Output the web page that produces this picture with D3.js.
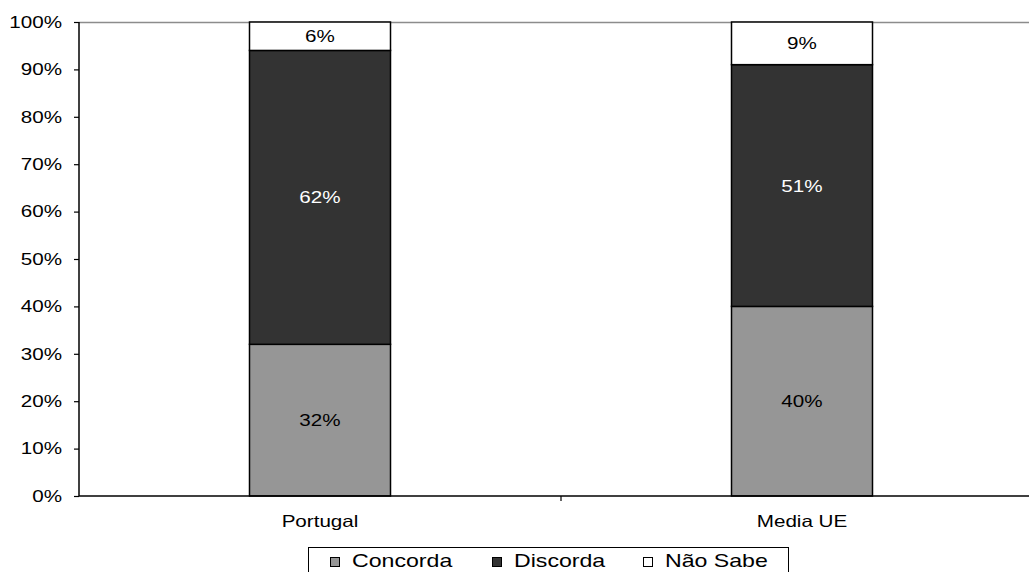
<!DOCTYPE html>
<html><head><meta charset="utf-8">
<script src="https://cdn.jsdelivr.net/npm/d3@7"></script>
<style>body{margin:0;background:#fff}svg{display:block;font-family:"Liberation Sans",Arial,sans-serif}</style>
</head><body><svg id="c" width="1029" height="572"></svg>
<script>
const categories = ["Portugal", "Media UE"];
const seriesNames = ["Concorda", "Discorda", "Não Sabe"];
const concorda = [32, 40];
const discorda = [62, 51];
const naoSabe = [6, 9];
const yTicks = [0,10,20,30,40,50,60,70,80,90,100];
const colors = ["#969696", "#333333", "#ffffff"];
const labelColors = ["#000", "#fff", "#000"];

(function(){
const svg = d3.select("#c");
const pLeft = 79, pRight = 1043, pTop = 22, pBottom = 496;
const SX = 1.25;
const x = d3.scaleBand().domain(categories).range([pLeft, pRight]);
const y = d3.scaleLinear().domain([0, 100]).range([pBottom, pTop]);

function stretch(sel) {
  sel.each(function() {
    const t = d3.select(this);
    const xv = +(t.attr("x") || 0);
    t.attr("x", xv / SX).attr("transform", `scale(${SX},1)`);
  });
}

const rows = categories.map((c, i) => ({cat: c, "Concorda": concorda[i], "Discorda": discorda[i], "Não Sabe": naoSabe[i]}));
const stacked = d3.stack().keys(seriesNames)(rows);

// top border of plot
svg.append("line").attr("x1", pLeft).attr("x2", 1029).attr("y1", pTop+0.5).attr("y2", pTop+0.5).attr("stroke", "#8c8c8c").attr("stroke-width", 1.5);

const barW = 141;
stacked.forEach((s, si) => {
  const g = svg.append("g");
  g.selectAll("rect").data(s).join("rect")
    .attr("x", d => x(d.data.cat) + x.bandwidth()/2 - barW/2)
    .attr("y", d => y(d[1]))
    .attr("width", barW)
    .attr("height", d => y(d[0]) - y(d[1]))
    .attr("fill", colors[si]).attr("stroke", "#000").attr("stroke-width", 1.5);
  g.selectAll("text").data(s).join("text")
    .attr("x", d => x(d.data.cat) + x.bandwidth()/2)
    .attr("y", d => (y(d[0]) + y(d[1]))/2 + 6)
    .attr("text-anchor", "middle").attr("font-size", 16.5).attr("fill", labelColors[si])
    .text(d => (d[1]-d[0]) + "%")
    .call(stretch);
});

// y axis
const yAxis = svg.append("g").attr("transform", `translate(${pLeft},0)`)
  .call(d3.axisLeft(y).tickValues(yTicks).tickFormat(d => d + "%").tickSize(5).tickPadding(12));
yAxis.select(".domain").attr("stroke", "#000").attr("stroke-width", 1.5).attr("d", `M0,${pTop}V${pBottom}`);
yAxis.selectAll(".tick line").attr("stroke", "#000").attr("stroke-width", 1.2);
yAxis.selectAll("text").attr("font-size", 16.5).attr("fill", "#000").attr("font-family", "Liberation Sans, Arial, sans-serif").call(stretch);

// x axis
const xAxis = svg.append("g").attr("transform", `translate(0,${pBottom})`)
  .call(d3.axisBottom(x).tickSize(0).tickPadding(19));
xAxis.select(".domain").attr("stroke", "#000").attr("stroke-width", 1.5).attr("d", `M${pLeft},0H1029`);
xAxis.selectAll("text").attr("font-size", 16.5).attr("fill", "#000").attr("font-family", "Liberation Sans, Arial, sans-serif").call(stretch);
// category boundary ticks
svg.append("g").selectAll("line").data(categories.slice(1)).join("line")
  .attr("x1", d => x(d)).attr("x2", d => x(d)).attr("y1", pBottom).attr("y2", pBottom+5)
  .attr("stroke", "#000").attr("stroke-width", 1.2);

// legend
const lg = svg.append("g");
lg.append("rect").attr("x", 308.5).attr("y", 547.5).attr("width", 480).attr("height", 40)
  .attr("fill", "#fff").attr("stroke", "#000").attr("stroke-width", 1);
const lx = [330, 492, 643];
seriesNames.forEach((n, i) => {
  lg.append("rect").attr("x", lx[i] + 0.5).attr("y", 557.5).attr("width", 9).attr("height", 9)
    .attr("fill", colors[i]).attr("stroke", "#000").attr("stroke-width", 1);
  lg.append("text").attr("x", lx[i] + 22).attr("y", 567).attr("font-size", 18.5).attr("fill", "#000").text(n).call(stretch);
});
})();
</script></body></html>
